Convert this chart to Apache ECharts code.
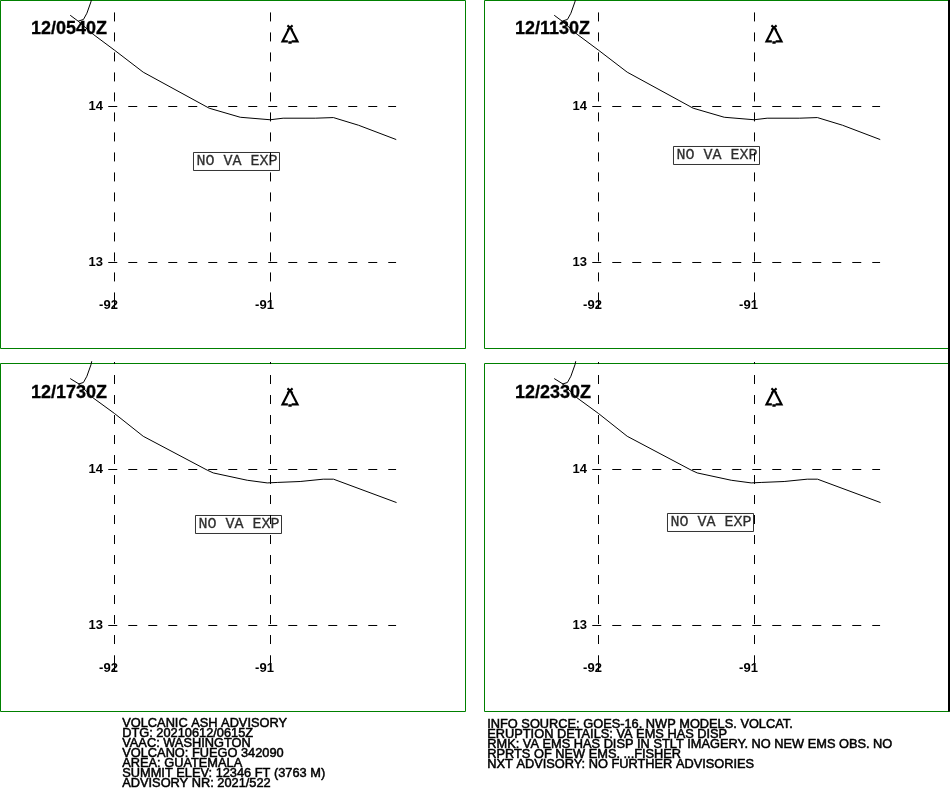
<!DOCTYPE html>
<html><head><meta charset="utf-8">
<style>html,body{margin:0;padding:0;background:#fff}#c{width:950px;height:812px}</style>
<script src="https://cdn.jsdelivr.net/npm/echarts@6/dist/echarts.min.js"></script>
</head><body><div id="c"></div>
<script>
const validTimes = ['12/0540Z','12/1130Z','12/1730Z','12/2330Z'];
const lonTicks = [-92,-91];
const latTicks = [14,13];
const volcano = [-90.875,14.465];
const hazardText = 'NO VA EXP';
const hazardPoints = [[-91.21795,13.64744],[-91.24359,13.6859],[-91.20513,13.64744],[-91.28205,13.66026]];
const coastUpper = [[-92.284,14.585],[-92.233,14.547],[-92.137,14.463],[-92,14.361],[-91.816,14.22],[-91.393,13.989],[-91.194,13.931],[-91.002,13.915],[-90.919,13.925],[-90.713,13.925],[-90.597,13.929],[-90.436,13.88],[-90.194,13.788]];
const coastLower = [[-92.284,14.583],[-92.226,14.547],[-92.137,14.459],[-92,14.359],[-91.816,14.213],[-91.406,13.996],[-91.367,13.978],[-91.149,13.931],[-91.021,13.914],[-90.957,13.917],[-90.81,13.923],[-90.662,13.938],[-90.596,13.938],[-90.192,13.788]];
const border = [[-92.233,14.547],[-92.199,14.558],[-92.177,14.598],[-92.151,14.671],[-92.146,14.694]];
const lonExtent = [-92.7308,-89.75];
const latExtent = [12.4487,14.6795];
const gridLonStartUpper = 14.603, gridLonStartLower = 14.689, gridLonEnd = 12.808, gridLonTail = 12.705;
const gridLatStart = -92.04, gridLatEnd = -90.195;
const infoLeft = ['VOLCANIC ASH ADVISORY','DTG: 20210612/0615Z','VAAC: WASHINGTON','VOLCANO: FUEGO 342090','AREA: GUATEMALA','SUMMIT ELEV: 12346 FT (3763 M)','ADVISORY NR: 2021/522'];
const infoRight = ['INFO SOURCE: GOES-16. NWP MODELS. VOLCAT.','ERUPTION DETAILS: VA EMS HAS DISP','RMK: VA EMS HAS DISP IN STLT IMAGERY. NO NEW EMS OBS. NO','RPRTS OF NEW EMS. ...FISHER','NXT ADVISORY: NO FURTHER ADVISORIES'];

const panelBoxes = [[0.5,0.5],[484.5,0.5],[0.5,363.5],[484.5,363.5]];
const sans = '"Liberation Sans",Arial,sans-serif';
const volcanoPath = 'path://M5.2,0.5 L9.8,5 M9.8,0.5 L5.2,5 M6.4,4 L0.8,15.6 L5.6,15.6 M6,16.6 L9,16.6 M9,15.6 L14.2,15.6 L8.6,4';
const line = (name,i,data,style) => ({name,type:'line',xAxisIndex:i,yAxisIndex:i,data,clip:false,silent:true,symbol:'none',animation:false,lineStyle:Object.assign({color:'#000',width:1},style||{})});

const grid=[],xAxis=[],yAxis=[],series=[],title=[];
panelBoxes.forEach((b,i)=>{
  const lower=i>=2;
  grid.push({left:b[0],top:b[1],width:465,height:348,show:true,borderColor:'#008000',borderWidth:1,backgroundColor:'transparent'});
  xAxis.push({type:'value',gridIndex:i,min:lonExtent[0],max:lonExtent[1],position:'bottom',
    axisLine:{show:false},axisTick:{show:false},splitLine:{show:false},
    axisLabel:{customValues:lonTicks,inside:true,margin:37,padding:[0,12,0,0],color:'#000',fontFamily:sans,fontSize:13,fontWeight:'bold',formatter:v=>String(v)}});
  yAxis.push({type:'value',gridIndex:i,min:latExtent[0],max:latExtent[1],position:'left',
    axisLine:{show:false},axisTick:{show:false},splitLine:{show:false},
    axisLabel:{customValues:latTicks,inside:true,margin:88,color:'#000',fontFamily:sans,fontSize:13,fontWeight:'bold',formatter:v=>String(v)}});
  title.push({text:validTimes[i],left:b[0]+30.5,top:b[1]+(lower?20.5:20),padding:0,textStyle:{color:'#000',fontFamily:sans,fontSize:18,fontWeight:'bold',textBorderColor:'#000',textBorderWidth:0.3}});
  const dash={type:[9,11]};
  lonTicks.forEach(lon=>{
    series.push(line('lon '+lon,i,[[lon,lower?gridLonStartLower:gridLonStartUpper],[lon,gridLonEnd]],Object.assign({},dash,lower?{dashOffset:7}:{})));
    series.push(line('lon tail '+lon,i,[[lon,gridLonEnd],[lon,gridLonTail]]));
  });
  latTicks.forEach(lat=>series.push(line('lat '+lat,i,[[gridLatStart,lat],[gridLatEnd,lat]],dash)));
  series.push(line('coast',i,lower?coastLower:coastUpper));
  series.push(line('border',i,border));
  series.push({name:'volcano',type:'scatter',xAxisIndex:i,yAxisIndex:i,data:[volcano],animation:false,silent:true,
    symbol:volcanoPath,symbolSize:[15,17],itemStyle:{color:'transparent',borderColor:'#000',borderWidth:2.2,opacity:1}});
  series.push({name:'hazard',type:'scatter',xAxisIndex:i,yAxisIndex:i,data:[hazardPoints[i]],animation:false,silent:true,
    symbolSize:1,itemStyle:{color:'transparent'},
    label:{show:true,position:'inside',formatter:hazardText,color:'#000',fontFamily:'"Liberation Mono",monospace',fontSize:15,lineHeight:14,
      textBorderColor:'#000',textBorderWidth:0.3,borderColor:'#000',borderWidth:1,padding:[2,2,2,3]}});
});
const infoText=(lines,x,y0)=>lines.map((t,k)=>({type:'text',left:x,top:y0+k*10,silent:true,
  style:{text:t,fill:'#000',stroke:'#000',lineWidth:0.5,font:'12.8px '+sans}}));
const graphic=[...infoText(infoLeft,122,717),...infoText(infoRight,487,718),
  {type:'rect',silent:true,z:100,shape:{x:948,y:0,width:2,height:711.5},style:{fill:'#000'}}];
const chart=echarts.init(document.getElementById('c'),null,{renderer:'canvas',width:950,height:812});
chart.setOption({animation:false,backgroundColor:'#fff',title,grid,xAxis,yAxis,series,graphic});
</script></body></html>
